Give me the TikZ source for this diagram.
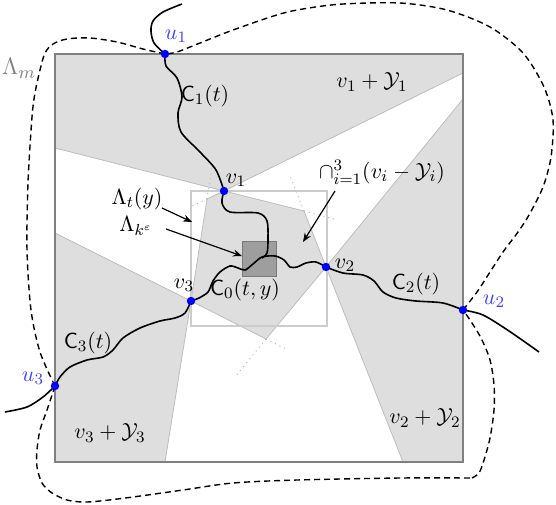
\documentclass[tikz,border=0pt]{standalone}
\usepackage{amsmath}
\usetikzlibrary{arrows.meta}
\definecolor{conegray}{gray}{0.87}
\definecolor{edgegray}{gray}{0.74}
\definecolor{boxgray}{gray}{0.5}
\definecolor{lblue}{rgb}{0.25,0.25,1}
\begin{document}
\begin{tikzpicture}[x=0.5pt,y=-0.5pt,
  every node/.style={font=\fontsize{11}{13}\selectfont, inner sep=0pt},
  conefill/.style={fill=conegray},
  coneedge/.style={draw=edgegray, line width=0.4pt},
  ext/.style={draw=gray!55, dotted, line width=0.5pt},
  curve/.style={line width=0.8pt, black},
  boundary/.style={line width=0.7pt, dash pattern=on 3pt off 2pt},
  dot/.style={circle, fill=blue, inner sep=0pt, minimum size=4.2pt},
  ulabel/.style={text=lblue},
  pointer/.style={-{Stealth[length=4.5pt,width=3.5pt]}, line width=0.6pt}]
\useasboundingbox (0,0) rectangle (556,504);

% key points
\coordinate (u1) at (165,54);
\coordinate (u2) at (463,310);
\coordinate (u3) at (55,386);
\coordinate (v1) at (224,191);
\coordinate (v2) at (326,267);
\coordinate (v3) at (191,301);
\coordinate (p12) at (304,211);
\coordinate (p13) at (207,199);
\coordinate (p23) at (266,339);

% cones
\path[conefill] (v1) -- (55,148) -- (55,54) -- (463,54) -- (463,73) -- cycle;
\path[conefill] (v2) -- (463,99) -- (463,462) -- (403,462) -- cycle;
\path[conefill] (v3) -- (55,233) -- (55,462) -- (165,462) -- cycle;
\path[conefill] (v1) -- (p12) -- (v2) -- (p23) -- (v3) -- (p13) -- cycle;
\draw[coneedge] (55,148) -- (v1) -- (463,73);
\draw[coneedge] (463,99) -- (v2) -- (403,462);
\draw[coneedge] (55,233) -- (v3) -- (165,462);
\draw[coneedge] (v1) -- (p12) -- (v2) -- (p23) -- (v3) -- (p13) -- cycle;

% dotted extensions
\draw[ext] (p12) -- (334,219);
\draw[ext] (p12) -- (290,176);
\draw[ext] (p13) -- (190,207);
\draw[ext] (p13) -- (212,168);
\draw[ext] (p23) -- (288,350);
\draw[ext] (p23) -- (235,377);

% boxes
\draw[boxgray, line width=0.6pt] (55,54) rectangle (463,462);
\draw[gray!40, line width=0.8pt] (191,191) rectangle (327,326);
\draw[fill=black!38, draw=black!52, line width=0.5pt] (242,241) rectangle (276,276);

% curves
\draw[curve] plot[smooth] coordinates {(182,4) (163,12) (153,21) (151,31) (154,43) (u1)};
\draw[curve] plot[smooth] coordinates {(u1) (166,66) (177,78) (182,97) (178,113) (181,132) (200,152) (216,170) (v1)};
\draw[curve] plot[smooth] coordinates {(v1) (222,203) (230,212) (258,213) (267,221) (268,240) (267,253) (262,258)};
\draw[curve] plot[smooth] coordinates {(v3) (199,298) (208,292) (213,281) (220,272) (230,266) (238,268) (245,270) (253,264) (262,257) (275,256) (284,260) (290,267) (297,267) (306,263) (316,262) (v2)};
\draw[curve] plot[smooth] coordinates {(v2) (343,273) (363,275) (374,281) (383,292) (396,298) (416,301) (443,303) (u2)};
\draw[curve] plot[smooth] coordinates {(u2) (483,315) (509,331) (539,352)};
\draw[curve] plot[smooth] coordinates {(5,412) (27,407) (43,397) (u3)};
\draw[curve] plot[smooth] coordinates {(u3) (60,377) (70,367) (87,360) (103,357) (113,350) (123,338) (140,328) (160,321) (175,318) (185,313) (v3)};

% boundary Lambda_m
\draw[boundary] plot[smooth] coordinates {(u1) (143,49) (117,42) (90,38) (67,39) (53,44) (45,53) (40,70) (35,93) (32,117) (28,183) (27,250) (31,310) (40,352) (u3)};
\draw[boundary] plot[smooth] coordinates {(u3) (47,410) (40,430) (37,450) (37,467) (42,483) (52,493) (67,500) (83,502) (100,501) (133,497) (183,490) (233,483) (297,480) (400,478) (472,478)};
\draw[boundary] plot[smooth] coordinates {(472,478) (479,473) (484,460) (490,438) (494,410) (494,385) (490,360) (481,338) (470,320) (u2)};
\draw[boundary] plot[smooth] coordinates {(u2) (477,292) (490,272) (503,252) (518,232) (529,215) (543,187) (551,157) (553,120) (544,87) (523,53) (490,27) (447,10) (400,3) (343,4) (309,8) (280,14) (233,30) (200,43) (177,52) (u1)};

% points
\foreach \p in {u1,u2,u3,v1,v2,v3} \node[dot] (d\p) at (\p) {};

% labels
\node[ulabel] (lu1) at (176,36) {$u_1$};
\node[ulabel] (lu2) at (494,301) {$u_2$};
\node[ulabel] (lu3) at (33,378) {$u_3$};
\node (lv1) at (236,180) {$v_1$};
\node (lv2) at (345,265) {$v_2$};
\node (lv3) at (184,285) {$v_3$};
\node (lC1) at (205,96) {$\mathsf{C}_1(t)$};
\node (lC2) at (416,284) {$\mathsf{C}_2(t)$};
\node (lC3) at (88,343) {$\mathsf{C}_3(t)$};
\node (lC0) at (245,290) {$\mathsf{C}_0(t,y)$};
\node[text=gray, font=\fontsize{12.5}{14}\selectfont] (lLm) at (19,68) {$\Lambda_m$};
\node (lY1) at (372,82) {$v_1+\mathcal{Y}_1$};
\node (lY2) at (425,418) {$v_2+\mathcal{Y}_2$};
\node (lY3) at (110,433) {$v_3+\mathcal{Y}_3$};
\node (lcap) at (382,172) {$\cap_{i=1}^3(v_i-\mathcal{Y}_i)$};
\node (lLt) at (137,199) {$\Lambda_t(y)$};
\node (lLk) at (136,226) {$\Lambda_{k^\varepsilon}$};

% pointers
\coordinate (a1s) at (162,208);
\coordinate (a1e) at (192,222);
\coordinate (a2s) at (166,229);
\coordinate (a2e) at (242,256);
\coordinate (a3s) at (335,191);
\coordinate (a3e) at (303,242);
\draw[pointer] (a1s) -- (a1e);
\draw[pointer] (a2s) -- (a2e);
\draw[pointer] (a3s) -- (a3e);
\end{tikzpicture}
\end{document}
